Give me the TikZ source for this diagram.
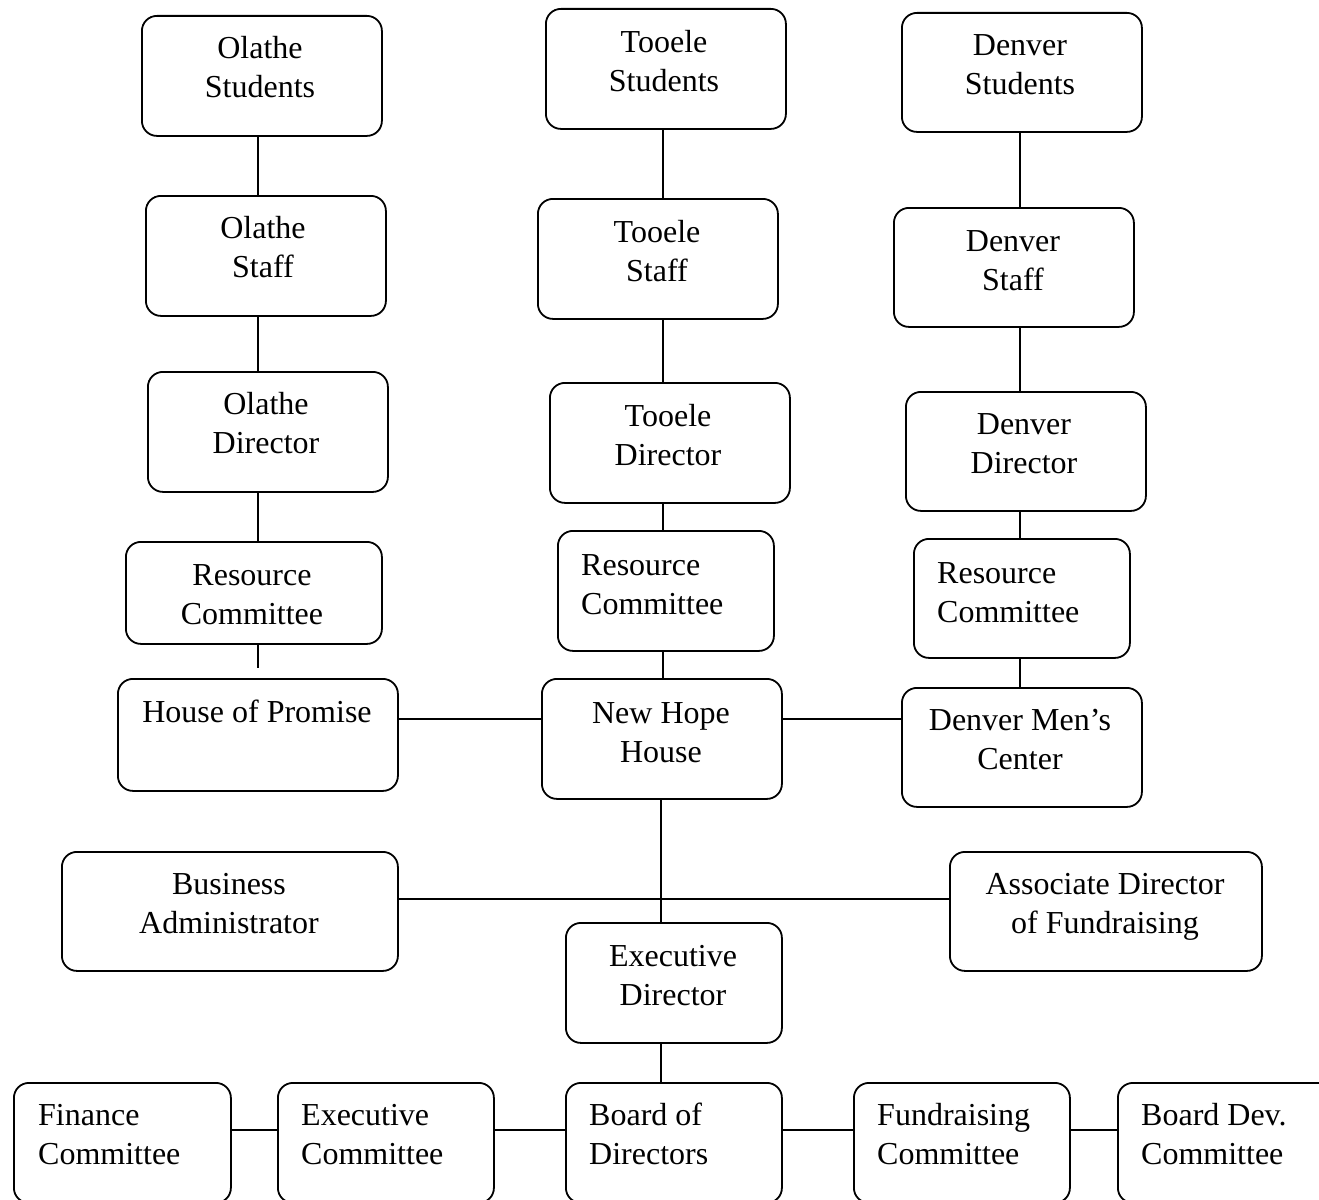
\documentclass[tikz,border=0pt]{standalone}
\usepackage{fontspec}
\setmainfont{Liberation Serif}
\begin{document}
\begin{tikzpicture}[x=1pt,y=-1pt,
 box/.style={draw, line width=1.8pt, rounded corners=15pt, inner sep=0pt, anchor=north west},
 txt/.style={inner sep=0pt, anchor=base, align=center, font=\fontsize{32}{39}\selectfont},
 ltxt/.style={txt, align=left, anchor=base west},
 link/.style={line width=1.8pt}]
\path[use as bounding box, clip] (0,0) rectangle (1319,1199);
% boxes
\node[box, minimum width=240, minimum height=120] (os)  at (141,15) {};
\node[box, minimum width=240, minimum height=120] (ost) at (145,195) {};
\node[box, minimum width=240, minimum height=120] (od)  at (147,371) {};
\node[box, minimum width=256, minimum height=102] (orc) at (125,541) {};
\node[box, minimum width=280, minimum height=112] (hop) at (117,678) {};
\node[box, minimum width=240, minimum height=120] (ts)  at (545,8) {};
\node[box, minimum width=240, minimum height=120] (tst) at (537,198) {};
\node[box, minimum width=240, minimum height=120] (td)  at (549,382) {};
\node[box, minimum width=216, minimum height=120] (trc) at (557,530) {};
\node[box, minimum width=240, minimum height=120] (nhh) at (541,678) {};
\node[box, minimum width=240, minimum height=119] (ds)  at (901,12) {};
\node[box, minimum width=240, minimum height=119] (dst) at (893,207) {};
\node[box, minimum width=240, minimum height=119] (dd)  at (905,391) {};
\node[box, minimum width=216, minimum height=119] (drc) at (913,538) {};
\node[box, minimum width=240, minimum height=119] (dmc) at (901,687) {};
\node[box, minimum width=336, minimum height=119] (ba)  at (61,851) {};
\node[box, minimum width=312, minimum height=119] (ad)  at (949,851) {};
\node[box, minimum width=216, minimum height=120] (ed)  at (565,922) {};
\node[box, minimum width=217, minimum height=120] (fc)  at (13,1082) {};
\node[box, minimum width=216, minimum height=120] (ec)  at (277,1082) {};
\node[box, minimum width=216, minimum height=120] (bd)  at (565,1082) {};
\node[box, minimum width=216, minimum height=120] (fr)  at (853,1082) {};
\node[box, minimum width=216, minimum height=120] (bdc) at (1117,1082) {};
% texts (base anchor = baseline of the last line)
\node[txt] (os-t)  at (260,97)  {Olathe\\Students};
\node[txt] (ost-t) at (263,277) {Olathe\\Staff};
\node[txt] (od-t)  at (266,453) {Olathe\\Director};
\node[txt] (orc-t) at (252,624) {Resource\\Committee};
\node[txt] (hop-t) at (257,722) {House of Promise};
\node[txt] (ts-t)  at (664,91)  {Tooele\\Students};
\node[txt] (tst-t) at (657,281) {Tooele\\Staff};
\node[txt] (td-t)  at (668,465) {Tooele\\Director};
\node[ltxt] (trc-t) at (581,614) {Resource\\Committee};
\node[txt] (nhh-t) at (661,762) {New Hope\\House};
\node[txt] (ds-t)  at (1020,94) {Denver\\Students};
\node[txt] (dst-t) at (1013,290) {Denver\\Staff};
\node[txt] (dd-t)  at (1024,473) {Denver\\Director};
\node[ltxt] (drc-t) at (937,622) {Resource\\Committee};
\node[txt] (dmc-t) at (1020,769) {Denver Men’s\\Center};
\node[txt] (ba-t)  at (229,933) {Business\\Administrator};
\node[txt] (ad-t)  at (1105,933) {Associate Director\\of Fundraising};
\node[txt] (ed-t)  at (673,1005) {Executive\\Director};
\node[ltxt] (fc-t)  at (38,1164)  {Finance\\Committee};
\node[ltxt] (ec-t)  at (301,1164) {Executive\\Committee};
\node[ltxt] (bd-t)  at (589,1164) {Board of\\Directors};
\node[ltxt] (fr-t)  at (877,1164) {Fundraising\\Committee};
\node[ltxt] (bdc-t) at (1141,1164) {Board Dev.\\Committee};
% helper coordinates
\coordinate (cL) at (258,0);
\coordinate (cM) at (663,0);
\coordinate (cN) at (661,0);
\coordinate (cR) at (1020,0);
\coordinate (hopstub) at (258,668);
\coordinate (hy) at (0,719);
\coordinate (by) at (0,899);
\coordinate (ry) at (0,1130);
% connectors
\draw[link] (os.south -| cL) -- (ost.north -| cL);
\draw[link] (ost.south -| cL) -- (od.north -| cL);
\draw[link] (od.south -| cL) -- (orc.north -| cL);
\draw[link] (orc.south -| cL) -- (hopstub);
\draw[link] (ts.south -| cM) -- (tst.north -| cM);
\draw[link] (tst.south -| cM) -- (td.north -| cM);
\draw[link] (td.south -| cM) -- (trc.north -| cM);
\draw[link] (trc.south -| cM) -- (nhh.north -| cM);
\draw[link] (ds.south -| cR) -- (dst.north -| cR);
\draw[link] (dst.south -| cR) -- (dd.north -| cR);
\draw[link] (dd.south -| cR) -- (drc.north -| cR);
\draw[link] (drc.south -| cR) -- (dmc.north -| cR);
\draw[link] (hop.east |- hy) -- (nhh.west |- hy);
\draw[link] (nhh.east |- hy) -- (dmc.west |- hy);
\draw[link] (nhh.south -| cN) -- (ed.north -| cN);
\draw[link] (ba.east |- by) -- (ad.west |- by);
\draw[link] (ed.south -| cN) -- (bd.north -| cN);
\draw[link] (fc.east |- ry) -- (ec.west |- ry);
\draw[link] (ec.east |- ry) -- (bd.west |- ry);
\draw[link] (bd.east |- ry) -- (fr.west |- ry);
\draw[link] (fr.east |- ry) -- (bdc.west |- ry);
\end{tikzpicture}
\end{document}
